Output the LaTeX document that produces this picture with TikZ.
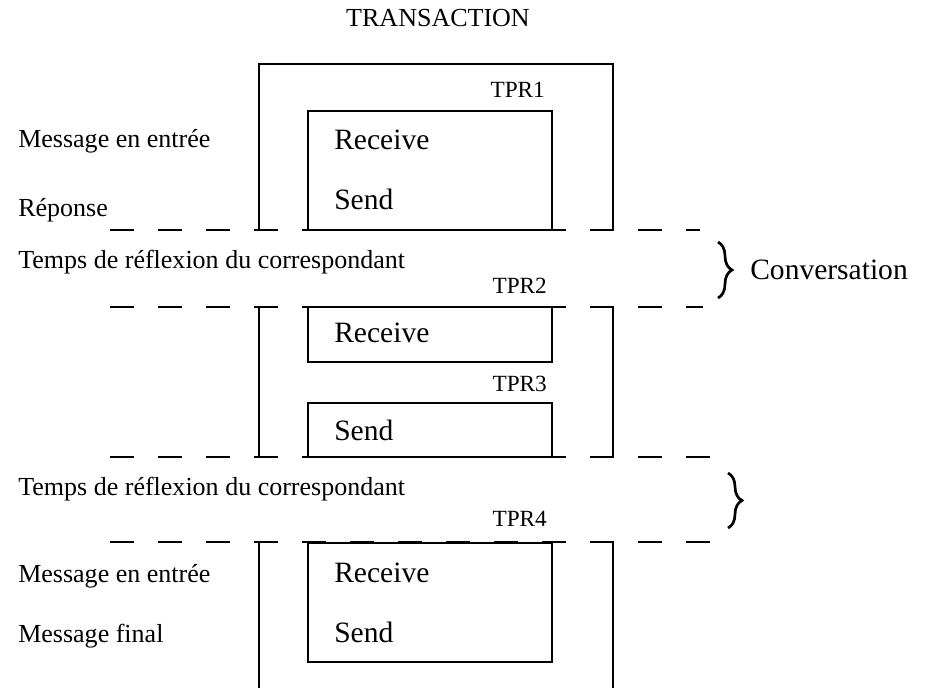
\documentclass[tikz,border=0pt]{standalone}
\usepackage{fontspec}
\setmainfont{Liberation Serif}
\usetikzlibrary{decorations.pathreplacing}
\tikzset{
  cadre/.style = {line width=1.5pt},
  tprbox/.style = {draw, line width=1.5pt, minimum width=6.1cm, inner sep=0pt},% boite TPR
  tprnom/.style = {anchor=base east, inner sep=0pt,
    font=\fontsize{16.5}{18}\selectfont},
  msg/.style = {anchor=base west, inner sep=0pt,
    font=\fontsize{18.5}{21}\selectfont},% texte a gauche
  op/.style = {anchor=base west, inner sep=0pt,
    font=\fontsize{21}{24}\selectfont},% Receive / Send
  coupure/.style = {line width=1.6pt, dash pattern=on 0.6cm off 0.6cm},
  accolade/.style = {line width=1.9pt, decorate,
    decoration={brace, amplitude=0.35cm}}
}
\begin{document}
\begin{tikzpicture}[x=0.025cm, y=-0.025cm]
\useasboundingbox (0,0) rectangle (925,688);
\node [msg, anchor=base] (titre) at (438,27) {TRANSACTION};
% coupures entre les TPR
\foreach \y/\xfin in {230/700, 307/703, 457/712, 542/713}
  \draw [coupure] (110,\y) -- (\xfin,\y);
% cadre de la transaction
\draw [cadre] (259,230) |- (613,64) -- (613,230);
\draw [cadre] (259,307) -- (259,457);
\draw [cadre] (613,307) -- (613,457);
\draw [cadre] (259,542) -- (259,688);
\draw [cadre] (613,542) -- (613,688);
% les TPR
\node [tprbox, minimum height=2.975cm] (tpr1) at (430,170.5) {};
\node [tprbox, minimum height=1.375cm] (tpr2) at (430,334.5) {};
\node [tprbox, minimum height=1.35cm] (tpr3) at (430,430) {};
\node [tprbox, minimum height=2.975cm] (tpr4) at (430,602.5) {};
\node [tprnom] (nom1) at ([shift={(-8,-12)}]tpr1.north east) {TPR1};
\node [tprnom] (nom2) at ([shift={(-6,-12)}]tpr2.north east) {TPR2};
\node [tprnom] (nom3) at ([shift={(-6,-10)}]tpr3.north east) {TPR3};
\node [tprnom] (nom4) at ([shift={(-6,-15)}]tpr4.north east) {TPR4};
\node [op] (rec1) at (334,150) {Receive};
\node [op] (snd1) at (334,210) {Send};
\node [op] (rec2) at (334,343) {Receive};
\node [op] (snd3) at (334,440) {Send};
\node [op] (rec4) at (334,582) {Receive};
\node [op] (snd4) at (334,642) {Send};
% textes a gauche
\node [msg] (entree1) at (18,148) {Message en entrée};
\node [msg] (reponse) at (18,217) {Réponse};
\node [msg] (reflex1) at (18,269) {Temps de réflexion du correspondant};
\node [msg] (reflex2) at (18,495) {Temps de réflexion du correspondant};
\node [msg] (entree2) at (18,582) {Message en entrée};
\node [msg] (final) at (18,642) {Message final};
% conversation
\draw [accolade] (718,242) -- (718,298);
\draw [accolade] (728,473) -- (728,528);
\node [op] (conv) at (750,280) {Conversation};
\end{tikzpicture}
\end{document}
